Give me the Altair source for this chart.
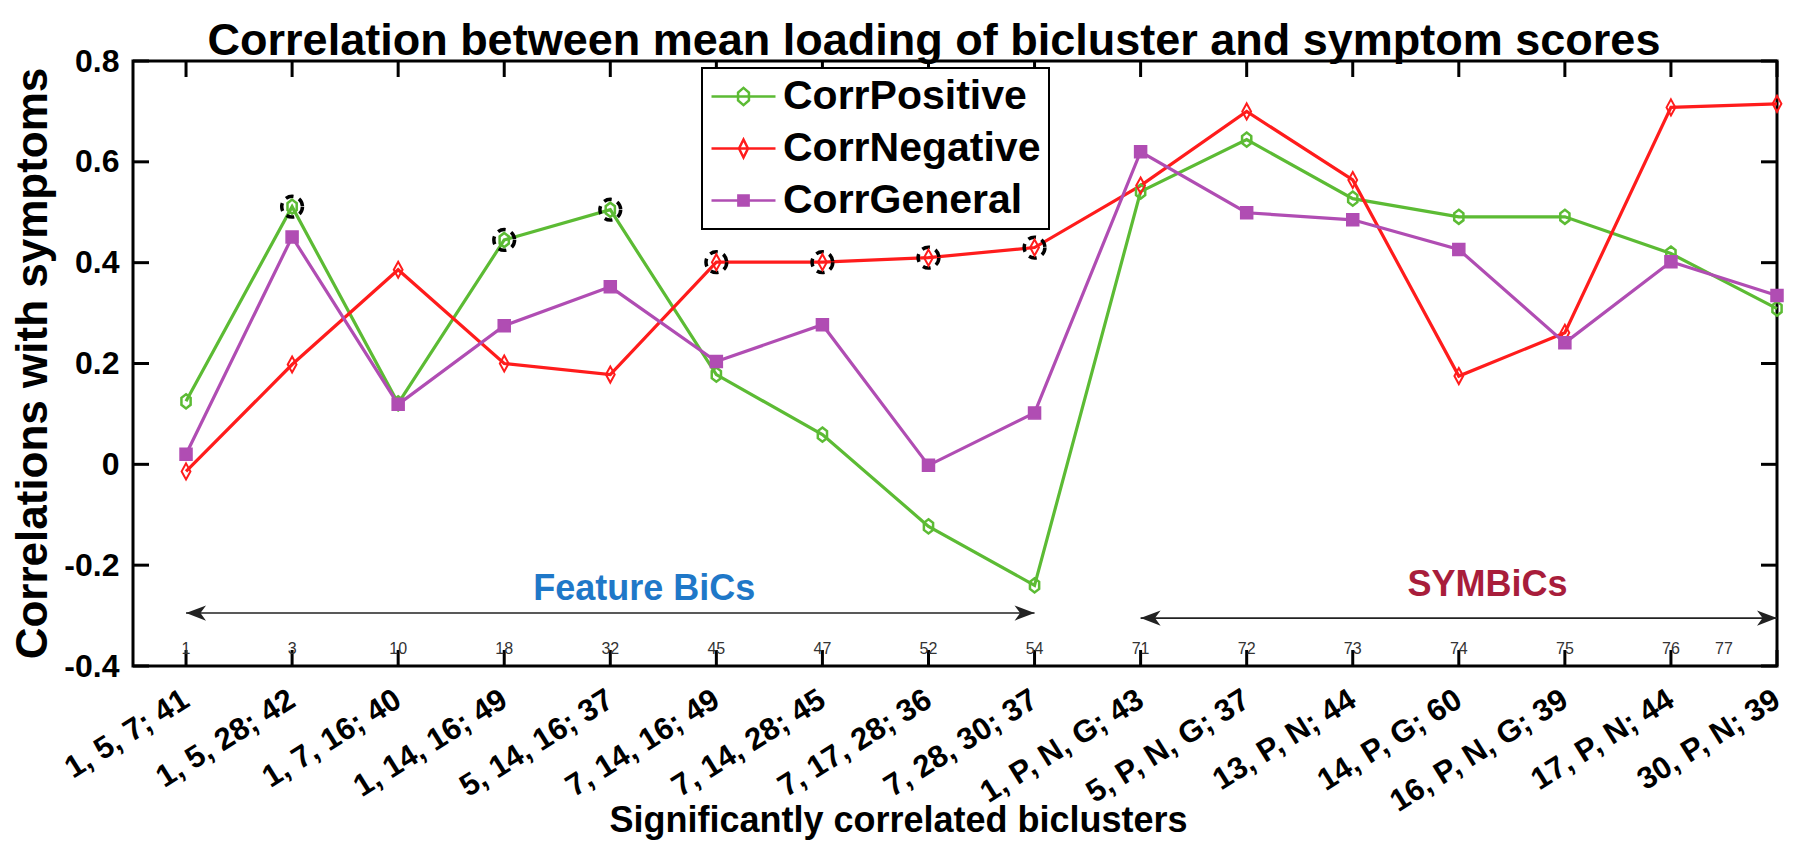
import altair as alt
import pandas as pd

# ---------------- data ----------------
bicluster_labels = ["1, 5, 7; 41", "1, 5, 28; 42", "1, 7, 16; 40", "1, 14, 16; 49",
                    "5, 14, 16; 37", "7, 14, 16; 49", "7, 14, 28; 45", "7, 17, 28; 36",
                    "7, 28, 30; 37", "1, P, N, G; 43", "5, P, N, G; 37", "13, P, N; 44",
                    "14, P, G; 60", "16, P, N, G; 39", "17, P, N; 44", "30, P, N; 39"]
bicluster_ids = ["1", "3", "10", "18", "32", "45", "47", "52", "54",
                 "71", "72", "73", "74", "75", "76", "77"]
corr_positive = [0.125, 0.511, 0.121, 0.445, 0.505, 0.178, 0.059, -0.123, -0.240,
                 0.541, 0.644, 0.527, 0.491, 0.491, 0.418, 0.309]
corr_negative = [-0.014, 0.198, 0.386, 0.200, 0.178, 0.401, 0.401, 0.410, 0.430,
                 0.553, 0.700, 0.564, 0.175, 0.261, 0.708, 0.715]
corr_general = [0.020, 0.451, 0.119, 0.275, 0.352, 0.204, 0.277, -0.002, 0.102,
                0.620, 0.499, 0.485, 0.426, 0.241, 0.402, 0.335]
series_names = ["CorrPositive", "CorrNegative", "CorrGeneral"]
highlight_positive = [2, 4, 5]
highlight_negative = [6, 7, 8, 9]
y_ticks = [-0.4, -0.2, 0.0, 0.2, 0.4, 0.6, 0.8]
groups = ["Feature BiCs", "SYMBiCs"]
group_start = [1, 10]
group_end = [9, 16]

# ---------------- styling ----------------
FONT = "Liberation Sans"
W, H = 1644, 605
colors = ["#5cbb34", "#ff1c1c", "#b04db3"]
group_colors = ["#1f78c8", "#a81d3b"]

idx = list(range(1, len(bicluster_labels) + 1))
vals = {"CorrPositive": corr_positive, "CorrNegative": corr_negative, "CorrGeneral": corr_general}
rows = []
for name in series_names:
    for i, v in zip(idx, vals[name]):
        rows.append({"idx": i, "value": v, "series": name})
df = pd.DataFrame(rows)

hl = []
for i in highlight_positive:
    hl.append({"idx": i, "value": corr_positive[i - 1]})
for i in highlight_negative:
    hl.append({"idx": i, "value": corr_negative[i - 1]})
df_hl = pd.DataFrame(hl)

df_idx = pd.DataFrame({"idx": idx, "num": bicluster_ids})
df_y = pd.DataFrame({"v": y_ticks})
df_groups = pd.DataFrame({"group": groups, "x1": group_start, "x2": group_end,
                          "y": [-0.295, -0.305], "tx": [5.32, 13.27], "ty": [-0.248, -0.24]})

xs = alt.Scale(domain=[0.5, 16], nice=False, zero=False)
ys = alt.Scale(domain=[-0.4, 0.8], nice=False, zero=False)

label_js = "[" + ",".join("'" + l + "'" for l in bicluster_labels) + "]"
x_axis = alt.Axis(values=idx, labelExpr=label_js + "[datum.value - 1]", labelAngle=328,
                  labelAlign="right", labelBaseline="middle", labelPadding=31, labelLimit=600,
                  labelFontSize=31, labelFontWeight="bold", labelOverlap=False,
                  labelFlush=False, labelBound=False, ticks=False, domain=False, grid=False,
                  title="Significantly correlated biclusters", titleFontSize=36,
                  titleFontWeight="bold", titleX=765, titleY=165, titleBaseline="alphabetic")
y_axis = alt.Axis(values=y_ticks, labelExpr="replace(format(datum.value, '.1~f'), '\u2212', '-')",
                  labelFontSize=32, labelFontWeight="bold", labelPadding=14,
                  ticks=False, domain=False, grid=False,
                  title="Correlations with symptoms", titleFontSize=44, titleFontWeight="bold",
                  titleX=-87, titleY=302, titleBaseline="alphabetic")

X = alt.X("idx:Q", scale=xs, axis=x_axis)
Y = alt.Y("value:Q", scale=ys, axis=y_axis)

base = alt.Chart(df)

circles = alt.Chart(df_hl).mark_point(shape="circle", size=430, filled=False, stroke="black",
                                      strokeWidth=3.5, strokeDash=[8, 6], opacity=1).encode(
    x=alt.X("idx:Q", scale=xs), y=alt.Y("value:Q", scale=ys))

lines = base.mark_line(strokeWidth=3.2).encode(
    x=X, y=Y,
    color=alt.Color("series:N", scale=alt.Scale(domain=series_names, range=colors), legend=None),
    detail="series:N")

shape_g = "M0,-1L0.65,-0.5L0.65,0.5L0,1L-0.65,0.5L-0.65,-0.5Z"
shape_r = "M0,-1L0.55,0L0,1L-0.55,0Z"
shape_p = "M-1,-1H1V1H-1Z"
pts_g = base.transform_filter(alt.datum.series == "CorrPositive").mark_point(
    shape=shape_g, size=200, filled=False, stroke=colors[0], strokeWidth=2.5, opacity=1).encode(
    x=alt.X("idx:Q", scale=xs), y=alt.Y("value:Q", scale=ys))
pts_r = base.transform_filter(alt.datum.series == "CorrNegative").mark_point(
    shape=shape_r, size=256, filled=False, stroke=colors[1], strokeWidth=2, opacity=1).encode(
    x=alt.X("idx:Q", scale=xs), y=alt.Y("value:Q", scale=ys))
pts_p = base.transform_filter(alt.datum.series == "CorrGeneral").mark_point(
    shape=shape_p, size=144, filled=True, fill=colors[2], stroke=colors[2], strokeWidth=1.5,
    opacity=1).encode(x=alt.X("idx:Q", scale=xs), y=alt.Y("value:Q", scale=ys))

leg_g = "M-1,0H1M0,-0.27L0.17,-0.12L0.17,0.12L0,0.27L-0.17,0.12L-0.17,-0.12Z"
leg_r = "M-1,0H1M0,-0.28L0.14,0L0,0.28L-0.14,0Z"
leg_p = "M-1,0H1M-0.16,-0.16H0.16V0.16H-0.16Z"
leg_common = dict(title=None, orient="none", legendX=569, legendY=7, labelFontSize=41,
                  labelFont=FONT, labelFontWeight="bold", labelColor="black", labelLimit=600,
                  symbolSize=4096, symbolStrokeWidth=2.5, clipHeight=41, labelOffset=6,
                  padding=8, rowPadding=10, strokeColor="black", fillColor="white")
legend_layer = base.transform_filter("false").mark_point(filled=True, opacity=1).encode(
    x=alt.X("idx:Q", scale=xs), y=alt.Y("value:Q", scale=ys),
    shape=alt.Shape("series:N", scale=alt.Scale(domain=series_names, range=[leg_g, leg_r, leg_p]),
                    legend=alt.Legend(**leg_common)),
    stroke=alt.Stroke("series:N", scale=alt.Scale(domain=series_names, range=colors),
                      legend=alt.Legend(**leg_common)),
    fill=alt.Fill("series:N", scale=alt.Scale(domain=series_names,
                                              range=["transparent", "transparent", colors[2]]),
                  legend=alt.Legend(**leg_common)))

# arrows
gbase = alt.Chart(df_groups)
shafts = gbase.mark_rule(color="#222222", strokeWidth=1.6).encode(
    x=alt.X("x1:Q", scale=xs), x2="x2:Q", y=alt.Y("y:Q", scale=ys))
head_left = gbase.mark_point(shape="M0,0L1,-0.38L0.72,0L1,0.38Z", size=1600, filled=True,
                             color="#222222", opacity=1).encode(
    x=alt.X("x1:Q", scale=xs), y=alt.Y("y:Q", scale=ys))
head_right = gbase.mark_point(shape="M0,0L-1,-0.38L-0.72,0L-1,0.38Z", size=1600, filled=True,
                              color="#222222", opacity=1).encode(
    x=alt.X("x2:Q", scale=xs), y=alt.Y("y:Q", scale=ys))
group_text = gbase.mark_text(font=FONT, fontSize=36, fontWeight="bold", baseline="middle",
                             align="center").encode(
    x=alt.X("tx:Q", scale=xs), y=alt.Y("ty:Q", scale=ys), text="group:N",
    color=alt.Color("group:N", scale=alt.Scale(domain=groups, range=group_colors), legend=None))

# small bicluster numbers
nums = alt.Chart(df_idx).transform_calculate(
    xp="datum.idx == 16 ? 15.5 : datum.idx", yp="-0.376").mark_text(
    font=FONT, fontSize=16, color="#333333", baseline="alphabetic", align="center").encode(
    x=alt.X("xp:Q", scale=xs), y=alt.Y("yp:Q", scale=ys), text="num:N")

# inward ticks
tk = dict(color="black", strokeWidth=3)
xt_top = alt.Chart(df_idx).mark_rule(**tk).encode(
    x=alt.X("idx:Q", scale=xs), y=alt.value(0), y2=alt.value(16))
xt_bot = alt.Chart(df_idx).mark_rule(**tk).encode(
    x=alt.X("idx:Q", scale=xs), y=alt.value(H - 16), y2=alt.value(H))
yt_left = alt.Chart(df_y).mark_rule(**tk).encode(
    y=alt.Y("v:Q", scale=ys), x=alt.value(0), x2=alt.value(16))
yt_right = alt.Chart(df_y).mark_rule(**tk).encode(
    y=alt.Y("v:Q", scale=ys), x=alt.value(W - 16), x2=alt.value(W))

chart = alt.layer(
    lines, xt_top, xt_bot, yt_left, yt_right, nums, shafts, head_left, head_right, group_text,
    circles, pts_g, pts_r, pts_p, legend_layer
).resolve_scale(color="independent").properties(
    width=W, height=H,
    autosize=alt.AutoSizeParams(type="none"),
    padding={"left": 125, "top": 53, "right": 14, "bottom": 174},
    title=alt.TitleParams("Correlation between mean loading of bicluster and symptom scores",
                          font=FONT, fontSize=45, fontWeight="bold", anchor="middle",
                          frame="group", offset=12, dx=-21, dy=31, color="black", limit=2000),
    background="white",
).configure_view(stroke="black", strokeWidth=3).configure_axis(
    labelFont=FONT, titleFont=FONT, labelColor="black", titleColor="black"
).configure_legend(strokeWidth=2)

chart.save("out.html", embed_options={"renderer": "svg", "actions": False})
